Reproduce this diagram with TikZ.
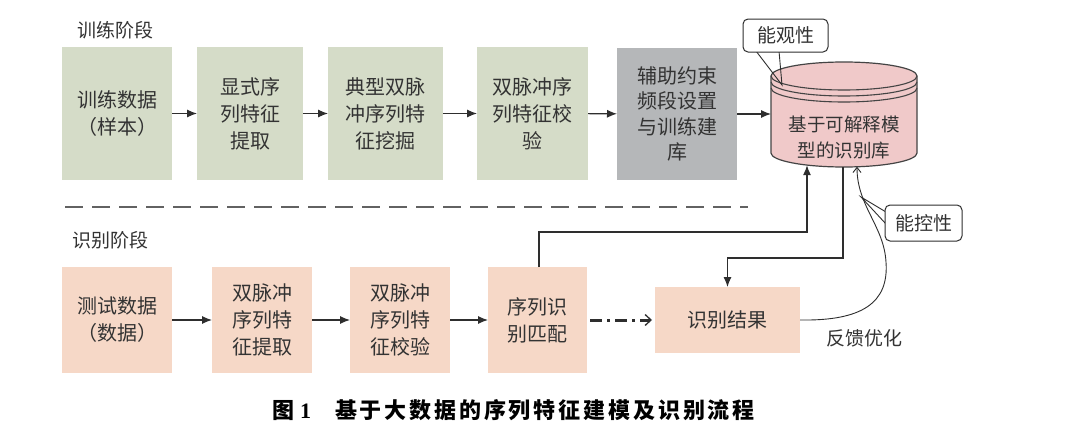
\documentclass[tikz,border=0pt]{standalone}
\usepackage{fontspec}
\setmainfont{Noto Sans CJK SC}
\newfontfamily\capfont[LetterSpace=13]{Noto Sans CJK SC}
\newfontfamily\numfont{Liberation Serif}
\usetikzlibrary{arrows.meta}
\definecolor{grn}{HTML}{D5DCC8}
\definecolor{gry}{HTML}{B5B7B9}
\definecolor{pch}{HTML}{F6D8C7}
\definecolor{pnk}{HTML}{F0C9C9}
\definecolor{txt}{HTML}{333333}
\definecolor{ln}{HTML}{2E2E2E}
\definecolor{cyl}{HTML}{444444}
\begin{document}
\begin{tikzpicture}[x=1pt,y=-1pt,
 every node/.style={inner sep=0pt, outer sep=0pt},
 tb/.style={align=center, text=txt, font=\fontsize{20}{27}\selectfont},
 gbox/.style={tb, fill=grn, minimum height=133pt},
 pbox/.style={tb, fill=pch, minimum height=106pt},
 arr/.style={-{Latex[length=10pt,width=8pt]}, line width=1.1pt, draw=ln},
 wire/.style={line width=0.9pt, draw=ln},
 bubble/.style={draw=ln, fill=white, rounded corners=5pt, line width=1pt, font=\fontsize{19}{22}\selectfont, text=txt},
 lbl/.style={font=\fontsize{19}{22}\selectfont, text=txt}]
\fill[white] (0,0) rectangle (1080,434);
\useasboundingbox (0,0) rectangle (1080,434);

% section labels
\node[lbl] (lt) at (115,30) {训练阶段};
\node[lbl] (lr) at (110,240) {识别阶段};

% top row
\node[gbox, minimum width=110pt] (b1) at (117,113.5) {训练数据\\（样本）};
\node[gbox, minimum width=106pt] (b2) at (250,113.5) {显式序\\列特征\\提取};
\node[gbox, minimum width=115pt] (b3) at (385.5,113.5) {典型双脉\\冲序列特\\征挖掘};
\node[gbox, minimum width=111pt] (b4) at (532.5,113.5) {双脉冲序\\列特征校\\验};
\node[tb, fill=gry, minimum width=120pt, minimum height=132pt, font=\fontsize{20}{25.5}\selectfont] (b5) at (677,114) {辅助约束\\频段设置\\与训练建\\库};

% cylinder
\filldraw[fill=pnk, draw=cyl, line width=1.2pt]
  (771,76) -- (771,153)
  .. controls (771,160.73) and (803.68,167) .. (844,167)
  .. controls (884.32,167) and (917,160.73) .. (917,153)
  -- (917,76)
  .. controls (917,68.27) and (884.32,62) .. (844,62)
  .. controls (803.68,62) and (771,68.27) .. (771,76) -- cycle;
\foreach \c in {76,82,88}{
  \draw[draw=cyl, line width=1.1pt] (771,\c) .. controls (771,\c+7.73) and (803.68,\c+14) .. (844,\c+14)
    .. controls (884.32,\c+14) and (917,\c+7.73) .. (917,\c);
}
\node[tb, font=\fontsize{18.5}{26}\selectfont] (lib) at (844,138) {基于可解释模\\型的识别库};
\coordinate (libL) at (771,114);
\coordinate (libA) at (807,165.2);
\coordinate (libB) at (843,167);
\coordinate (libC) at (857,166.8);

% callout observability
\draw[wire] (756,51) -- (782,85) -- (779,51);
\node[bubble, minimum width=85pt, minimum height=33pt] (obs) at (785.5,35.5) {能观性};

% top arrows
\draw[arr] (b1) -- (b2);
\draw[arr] (b2) -- (b3);
\draw[arr] (b3) -- (b4);
\draw[arr] (b4) -- (b5);
\draw[arr] (b5.east |- libL) -- (libL);

% separator
\coordinate (dL) at (65,207);
\coordinate (dR) at (748,207);
\draw[draw=ln!75, line width=1.2pt, dash pattern=on 18pt off 9pt] (dL) -- (dR);

% bottom row
\node[pbox, minimum width=110pt] (c1) at (117,320) {测试数据\\（数据）};
\node[pbox, minimum width=100pt] (c2) at (262,320) {双脉冲\\序列特\\征提取};
\node[pbox, minimum width=100pt] (c3) at (400,320) {双脉冲\\序列特\\征校验};
\node[pbox, minimum width=99pt] (c4) at (537.5,320) {序列识\\别匹配};
\node[tb, fill=pch, minimum width=145pt, minimum height=66pt] (res) at (727.5,320) {识别结果};

\draw[arr] (c1) -- (c2);
\draw[arr] (c2) -- (c3);
\draw[arr] (c3) -- (c4);
\draw[draw=ln, line width=3pt, dash pattern=on 12pt off 5pt on 3pt off 5pt,
  -{Straight Barb[length=6pt,width=11pt,line width=1.3pt]}, shorten <=3pt, shorten >=3pt] (c4) -- (res);

% connections with library
\draw[arr] ([xshift=1.5pt]c4.north) -- ++(0,-35) -| (libA);
\draw[arr] (libB) -- ++(0,91) -| (res.north);
\draw[wire, -{Straight Barb[length=5pt,width=8pt]}] (res.east)
  .. controls (862,321) and (889,303) .. (886,262)
  .. controls (884,226) and (857,206) .. (libC);
\node[lbl] (fb) at (864,338) {反馈优化};

% callout controllability
\draw[wire] (886,212) -- (861,197) -- (886,224);
\node[bubble, minimum width=77pt, minimum height=36pt] (ctl) at (923.5,223) {能控性};

% caption
\node[anchor=west, text=black, font=\fontsize{22}{26}\selectfont\bfseries] (cap) at (272,410)
  {图\hspace{6pt}{\numfont\bfseries 1}\hspace{24pt}{\capfont\bfseries 基于大数据的序列特征建模及识别流程}};
\end{tikzpicture}
\end{document}
